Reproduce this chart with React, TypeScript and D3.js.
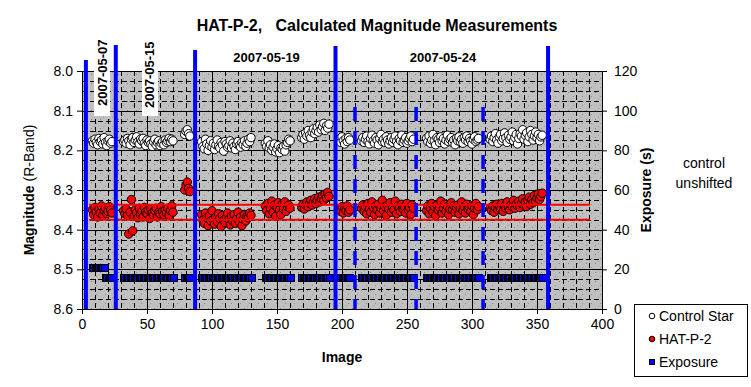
import React, { useEffect, useRef } from 'react';
import * as d3 from 'd3';

// first image number of each observing run (images are consecutive inside a run)
const runStart = [8, 32, 79, 92, 141, 169, 198, 215, 265, 314];

const controlRuns = [
  [8.176, 8.182, 8.172, 8.180, 8.186, 8.170, 8.178, 8.174, 8.184, 8.168, 8.180, 8.188, 8.176, 8.172, 8.182, 8.178],
  [8.178, 8.174, 8.182, 8.170, 8.176, 8.186, 8.172, 8.168, 8.180, 8.174, 8.166, 8.178, 8.184, 8.172, 8.176, 8.170, 8.182, 8.188, 8.174, 8.180,
    8.176, 8.184, 8.190, 8.178, 8.172, 8.186, 8.180, 8.176, 8.188, 8.182, 8.178, 8.186, 8.174, 8.180, 8.176, 8.170, 8.178, 8.172, 8.176],
  [8.160, 8.152, 8.148, 8.158, 8.164],
  [8.178, 8.190, 8.196, 8.172, 8.184, 8.200, 8.188, 8.176, 8.192, 8.182, 8.198, 8.186, 8.174, 8.190, 8.194, 8.180, 8.186, 8.202, 8.178, 8.184,
    8.192, 8.188, 8.176, 8.194, 8.182, 8.190, 8.198, 8.184, 8.178, 8.188, 8.192, 8.180, 8.186, 8.176, 8.190, 8.182, 8.172, 8.178, 8.168],
  [8.182, 8.190, 8.176, 8.194, 8.186, 8.200, 8.192, 8.184, 8.204, 8.196, 8.188, 8.206, 8.194, 8.198, 8.190, 8.202, 8.186, 8.180, 8.172, 8.176],
  [8.168, 8.160, 8.172, 8.156, 8.164, 8.150, 8.162, 8.168, 8.154, 8.146, 8.158, 8.150, 8.142, 8.154, 8.136, 8.148, 8.140, 8.132, 8.150, 8.138, 8.144, 8.134],
  [8.172, 8.180, 8.166, 8.176, 8.184, 8.170, 8.178, 8.168, 8.174],
  [8.176, 8.168, 8.180, 8.172, 8.164, 8.178, 8.184, 8.170, 8.162, 8.176, 8.182, 8.168, 8.174, 8.186, 8.170, 8.160, 8.178, 8.172, 8.180, 8.166,
    8.174, 8.184, 8.176, 8.168, 8.180, 8.172, 8.164, 8.178, 8.186, 8.170, 8.176, 8.162, 8.180, 8.174, 8.168, 8.182, 8.176, 8.170, 8.164, 8.178, 8.172],
  [8.170, 8.178, 8.164, 8.182, 8.174, 8.160, 8.176, 8.186, 8.168, 8.172, 8.180, 8.166, 8.176, 8.170, 8.184, 8.174, 8.162, 8.178, 8.172, 8.168,
    8.180, 8.174, 8.186, 8.170, 8.176, 8.166, 8.178, 8.172, 8.182, 8.168, 8.174, 8.164, 8.178, 8.170, 8.176, 8.184, 8.172, 8.166, 8.178, 8.174, 8.170],
  [8.172, 8.164, 8.178, 8.168, 8.158, 8.174, 8.182, 8.166, 8.160, 8.176, 8.170, 8.156, 8.168, 8.180, 8.162, 8.172, 8.166, 8.154, 8.176, 8.168,
    8.160, 8.184, 8.170, 8.158, 8.164, 8.148, 8.172, 8.162, 8.156, 8.178, 8.166, 8.150, 8.160, 8.174, 8.164, 8.154, 8.168, 8.160, 8.176, 8.166, 8.162],
];

const hatRuns = [
  [8.350, 8.362, 8.344, 8.356, 8.368, 8.348, 8.358, 8.340, 8.364, 8.352, 8.346, 8.360, 8.354, 8.342, 8.350, 8.358],
  [8.352, 8.360, 8.348, 8.364, 8.411, 8.356, 8.324, 8.403, 8.366, 8.350, 8.358, 8.370, 8.346, 8.362, 8.354, 8.368, 8.344, 8.356, 8.360, 8.350,
    8.372, 8.348, 8.358, 8.364, 8.352, 8.346, 8.368, 8.356, 8.360, 8.342, 8.354, 8.362, 8.350, 8.358, 8.346, 8.364, 8.352, 8.340, 8.356],
  [8.300, 8.288, 8.280, 8.296, 8.304],
  [8.362, 8.376, 8.384, 8.358, 8.370, 8.390, 8.366, 8.378, 8.352, 8.374, 8.386, 8.368, 8.380, 8.360, 8.372, 8.392, 8.364, 8.376, 8.382, 8.370,
    8.358, 8.374, 8.388, 8.366, 8.378, 8.362, 8.384, 8.372, 8.356, 8.380, 8.368, 8.390, 8.374, 8.362, 8.378, 8.366, 8.370, 8.358, 8.364],
  [8.340, 8.352, 8.334, 8.360, 8.346, 8.328, 8.356, 8.338, 8.366, 8.344, 8.332, 8.350, 8.362, 8.336, 8.348, 8.330, 8.354, 8.342, 8.338, 8.346],
  [8.344, 8.336, 8.348, 8.338, 8.330, 8.342, 8.334, 8.326, 8.338, 8.330, 8.322, 8.334, 8.326, 8.318, 8.330, 8.322, 8.314, 8.326, 8.310, 8.320, 8.306, 8.316],
  [8.348, 8.354, 8.342, 8.358, 8.346, 8.352, 8.340, 8.356, 8.350],
  [8.346, 8.338, 8.354, 8.342, 8.360, 8.334, 8.348, 8.356, 8.330, 8.344, 8.362, 8.340, 8.350, 8.336, 8.358, 8.346, 8.326, 8.352, 8.342, 8.364,
    8.338, 8.348, 8.332, 8.356, 8.344, 8.350, 8.328, 8.360, 8.340, 8.346, 8.354, 8.336, 8.348, 8.342, 8.358, 8.334, 8.350, 8.344, 8.362, 8.338, 8.346],
  [8.352, 8.340, 8.360, 8.346, 8.334, 8.356, 8.342, 8.364, 8.338, 8.350, 8.344, 8.328, 8.358, 8.346, 8.336, 8.354, 8.342, 8.362, 8.348, 8.332,
    8.350, 8.340, 8.356, 8.344, 8.338, 8.360, 8.346, 8.330, 8.352, 8.342, 8.358, 8.336, 8.348, 8.344, 8.354, 8.340, 8.362, 8.346, 8.334, 8.350, 8.342],
  [8.346, 8.352, 8.340, 8.356, 8.344, 8.336, 8.350, 8.342, 8.348, 8.334, 8.354, 8.340, 8.346, 8.330, 8.344, 8.350, 8.338, 8.342, 8.326, 8.346,
    8.336, 8.340, 8.328, 8.344, 8.334, 8.322, 8.338, 8.330, 8.342, 8.326, 8.318, 8.336, 8.324, 8.332, 8.314, 8.328, 8.320, 8.310, 8.324, 8.316, 8.308],
];

// exposure time (s), constant over image ranges
const expFrom = [8, 18, 32, 79, 92, 141, 169, 198, 215, 265, 314];
const expTo = [17, 23, 70, 83, 130, 160, 190, 206, 255, 305, 354];
const expSeconds = [20, 15, 15, 15, 15, 15, 15, 15, 15, 15, 15];

const nightBreaks = [3, 26, 87, 195, 358.5];
const splitBreaks = [210, 257, 308.5];
const refMags = [8.337, 8.375];
const refRange = [5.4, 390.8];
const verticalDates = ['2007-05-07', '2007-05-15'];
const verticalDateAt = [15.4, 52.3];
const flatDates = ['2007-05-19', '2007-05-24'];
const flatDateAt = [142, 277.7];

const xTicks = [0, 50, 100, 150, 200, 250, 300, 350, 400];
const yTicks = [8.0, 8.1, 8.2, 8.3, 8.4, 8.5, 8.6];
const rTicks = [0, 20, 40, 60, 80, 100, 120];

const FONT = 'Arial, "Liberation Sans", sans-serif';

export default function App() {
  const ref = useRef(null);

  useEffect(() => {
    const svg = d3.select(ref.current);
    svg.selectAll('*').remove();
    const W = 751, H = 387;
    svg.attr('width', W).attr('height', H).attr('viewBox', `0 0 ${W} ${H}`)
      .style('font-family', FONT);

    const left = 82, right = 602, top = 71, bottom = 309;
    const x = d3.scaleLinear().domain([0, 400]).range([left, right]);
    const y = d3.scaleLinear().domain([8.0, 8.6]).range([top, bottom]);
    const yr = d3.scaleLinear().domain([0, 120]).range([bottom, top]);

    const control = runStart.flatMap((s, r) => controlRuns[r].map((m, i) => ({ img: s + i, m })));
    const hat = runStart.flatMap((s, r) => hatRuns[r].map((m, i) => ({ img: s + i, m })));
    const exposure = expFrom.flatMap((s, r) => d3.range(s, expTo[r] + 1).map((img) => ({ img, e: expSeconds[r] })));

    svg.append('rect').attr('width', W).attr('height', H).attr('fill', '#fff');

    // speckled grey plot area
    const pat = svg.append('defs').append('pattern').attr('id', 'speckle')
      .attr('width', 9).attr('height', 9).attr('patternUnits', 'userSpaceOnUse');
    pat.append('rect').attr('width', 9).attr('height', 9).attr('fill', '#c0c0c0');
    pat.append('rect').attr('x', 1).attr('y', 2).attr('width', 1).attr('height', 1).attr('fill', '#6f8f6f');
    pat.append('rect').attr('x', 6).attr('y', 6).attr('width', 1).attr('height', 1).attr('fill', '#7f9a7f');
    pat.append('rect').attr('x', 4).attr('y', 0).attr('width', 1).attr('height', 1).attr('fill', '#a0a0a0');
    svg.append('rect').attr('x', left).attr('y', top).attr('width', right - left).attr('height', bottom - top)
      .attr('fill', 'url(#speckle)');

    const grid = svg.append('g').attr('shape-rendering', 'crispEdges');
    const minorY = d3.range(0, 25).map((k) => 8 + k * 0.025).filter((_, k) => k % 4 !== 0);
    const minorX = d3.range(0, 41).map((k) => k * 10).filter((v) => v % 50 !== 0);
    grid.selectAll('.my').data(minorY).join('line')
      .attr('x1', left).attr('x2', right).attr('y1', (d) => Math.round(y(d)) + 0.5).attr('y2', (d) => Math.round(y(d)) + 0.5)
      .attr('stroke', '#000').attr('stroke-dasharray', '5,3');
    grid.selectAll('.mx').data(minorX).join('line')
      .attr('y1', top).attr('y2', bottom).attr('x1', (d) => Math.round(x(d)) + 0.5).attr('x2', (d) => Math.round(x(d)) + 0.5)
      .attr('stroke', '#000').attr('stroke-dasharray', '5,3');
    grid.selectAll('.My').data(yTicks).join('line')
      .attr('x1', left).attr('x2', right).attr('y1', (d) => Math.round(y(d)) + 0.5).attr('y2', (d) => Math.round(y(d)) + 0.5)
      .attr('stroke', '#000');
    grid.selectAll('.Mx').data(xTicks).join('line')
      .attr('y1', top).attr('y2', bottom).attr('x1', (d) => Math.round(x(d)) + 0.5).attr('x2', (d) => Math.round(x(d)) + 0.5)
      .attr('stroke', '#000');

    // axes
    const yAxis = d3.axisLeft(y).tickValues(yTicks).tickFormat(d3.format('.1f')).tickSize(5).tickPadding(4);
    const xAxis = d3.axisBottom(x).tickValues(xTicks).tickSize(5).tickPadding(5);
    const rAxis = d3.axisRight(yr).tickValues(rTicks).tickSize(5).tickPadding(7);
    const styleAxis = (g) => {
      g.selectAll('path,line').attr('stroke', '#000');
      g.selectAll('text').attr('fill', '#000').style('font-size', '14px').style('font-family', FONT);
    };
    svg.append('g').attr('transform', `translate(${left},0)`).call(yAxis).call(styleAxis);
    svg.append('g').attr('transform', `translate(0,${bottom})`).call(xAxis).call(styleAxis);
    svg.append('g').attr('transform', `translate(${right},0)`).call(rAxis).call(styleAxis);

    // series
    svg.append('g').selectAll('circle').data(control).join('circle')
      .attr('cx', (d) => x(d.img)).attr('cy', (d) => y(d.m)).attr('r', 4.2)
      .attr('fill', '#fff').attr('stroke', '#000').attr('stroke-width', 1);
    svg.append('g').selectAll('circle').data(hat).join('circle')
      .attr('cx', (d) => x(d.img)).attr('cy', (d) => y(d.m)).attr('r', 4.2)
      .attr('fill', '#ff0000').attr('stroke', '#000').attr('stroke-width', 1);
    svg.append('g').attr('shape-rendering', 'crispEdges').selectAll('rect').data(exposure).join('rect')
      .attr('x', (d) => Math.round(x(d.img) - 3.5) + 0.5).attr('y', (d) => Math.round(yr(d.e) - 5.5) + 0.5)
      .attr('width', 7).attr('height', 7)
      .attr('fill', '#0000ff').attr('stroke', '#000').attr('stroke-width', 1);

    // reference levels
    svg.append('g').selectAll('line').data(refMags).join('line')
      .attr('x1', x(refRange[0])).attr('x2', x(refRange[1]))
      .attr('y1', (d) => y(d)).attr('y2', (d) => y(d))
      .attr('stroke', '#ff0000').attr('stroke-width', 2);

    // night separators
    const lineTops = [60, 45, 50, 46, 46];
    svg.append('g').selectAll('line').data(nightBreaks).join('line')
      .attr('x1', (d) => x(d)).attr('x2', (d) => x(d))
      .attr('y1', (_, i) => lineTops[i]).attr('y2', bottom)
      .attr('stroke', '#0000ff').attr('stroke-width', 4);
    svg.append('g').selectAll('line').data(splitBreaks).join('line')
      .attr('x1', (d) => x(d)).attr('x2', (d) => x(d))
      .attr('y1', 107).attr('y2', bottom)
      .attr('stroke', '#0000ff').attr('stroke-width', 3.5).attr('stroke-dasharray', '14,10');

    // date labels
    verticalDates.forEach((label, i) => {
      const cx = x(verticalDateAt[i]);
      svg.append('rect').attr('x', cx - 8).attr('y', 40).attr('width', 16).attr('height', 76).attr('fill', '#fff');
      svg.append('text').attr('transform', `translate(${cx + 4.5},${106 + (i ? 2 : 0)}) rotate(-90)`)
        .attr('font-size', 13).attr('font-weight', 'bold').text(label);
    });
    flatDates.forEach((label, i) => {
      svg.append('text').attr('x', x(flatDateAt[i])).attr('y', 62).attr('text-anchor', 'middle')
        .attr('font-size', 13).attr('font-weight', 'bold').text(label);
    });

    // titles
    svg.append('text').attr('x', 377).attr('y', 31).attr('text-anchor', 'middle')
      .attr('font-size', 16).attr('font-weight', 'bold').style('white-space', 'pre')
      .text('HAT-P-2,   Calculated Magnitude Measurements');
    const yl = svg.append('text').attr('transform', `translate(34,${(top + bottom) / 2}) rotate(-90)`)
      .attr('text-anchor', 'middle').attr('font-size', 14);
    yl.append('tspan').attr('font-weight', 'bold').text('Magnitude');
    yl.append('tspan').text(' (R-Band)');
    svg.append('text').attr('x', x(200)).attr('y', 362).attr('text-anchor', 'middle')
      .attr('font-size', 14).attr('font-weight', 'bold').text('Image');
    svg.append('text').attr('transform', `translate(651,${(top + bottom) / 2}) rotate(-90)`)
      .attr('text-anchor', 'middle').attr('font-size', 14).attr('font-weight', 'bold').text('Exposure (s)');
    svg.append('text').attr('x', 704).attr('y', 168).attr('text-anchor', 'middle').attr('font-size', 14).text('control');
    svg.append('text').attr('x', 704).attr('y', 188).attr('text-anchor', 'middle').attr('font-size', 14).text('unshifted');

    // legend
    const lg = svg.append('g');
    lg.append('rect').attr('x', 634.5).attr('y', 304.5).attr('width', 113).attr('height', 72)
      .attr('fill', '#fff').attr('stroke', '#000');
    const items = ['Control Star', 'HAT-P-2', 'Exposure'];
    items.forEach((name, i) => {
      const cy = 316 + i * 23;
      if (i === 0) lg.append('circle').attr('cx', 652).attr('cy', cy).attr('r', 2.8).attr('fill', '#fff').attr('stroke', '#000');
      if (i === 1) lg.append('circle').attr('cx', 652).attr('cy', cy).attr('r', 2.8).attr('fill', '#ff0000').attr('stroke', '#000');
      if (i === 2) lg.append('rect').attr('x', 649.5).attr('y', cy - 2.5).attr('width', 5).attr('height', 5).attr('fill', '#0000ff').attr('stroke', '#000');
      lg.append('text').attr('x', 659).attr('y', cy + 5).attr('font-size', 14).text(name);
    });
  }, []);

  return <svg ref={ref} style={{ position: 'absolute', left: 0, top: 0, display: 'block' }}></svg>;
}
